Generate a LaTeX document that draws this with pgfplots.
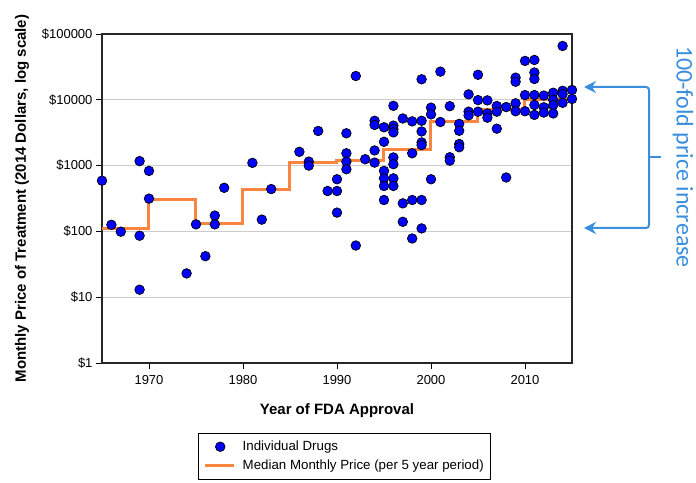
\documentclass[border=0pt]{standalone}
\usepackage{fontspec}
\setmainfont{Liberation Sans}
\newfontfamily\calib{Carlito}
\usepackage{pgfplots}
\pgfplotsset{compat=1.18}
\usetikzlibrary{arrows.meta}

\definecolor{drugblue}{RGB}{0,0,255}
\definecolor{medorange}{RGB}{249,134,64}
\definecolor{notecol}{RGB}{58,142,222}
\definecolor{gridgray}{RGB}{204,204,204}

\pgfplotsset{
  dotlegend/.style={legend image code/.code={\draw[##1] plot coordinates {(15pt,0pt)}; \path (0pt,0pt) (34pt,0pt);}},
  linelegend/.style={legend image code/.code={\draw[##1] (0pt,0pt) -- (29pt,0pt); \path (34pt,0pt);}},
}

\begin{document}
\begin{tikzpicture}
  % page = 696 x 482, axis box at (0,0)--(470,329)
  \useasboundingbox (-102pt,-119pt) rectangle (594pt,363pt);
  \begin{axis}[
      at={(0pt,0pt)}, anchor=south west,
      scale only axis,
      width=470pt, height=329pt,
      clip=false,
      xmin=1965, xmax=2015,
      ymode=log, ymin=1, ymax=100000,
      xtick={1970,1980,1990,2000,2010},
      xticklabels={1970,1980,1990,2000,2010},
      ytick={1,10,100,1000,10000,100000},
      yticklabels={\$1,\$10,\$100,\$1000,\$10000,\$100000},
      yminorticks=false,
      xtick pos=bottom, ytick pos=left,
      tick align=outside,
      major tick length=6pt,
      tick style={black, line width=0.9pt},
      axis line style={black!85, line width=1.1pt},
      ymajorgrids=true,
      grid style={gridgray, line width=1.2pt},
      tick label style={font=\fontsize{13}{15}\selectfont},
      xticklabel style={yshift=-3pt},
      every axis x label/.style={at={(axis description cs:0.5,-0.146)}, anchor=center},
      every axis y label/.style={at={(axis description cs:-0.170,0.5)}, rotate=90, anchor=center},
      label style={font=\bfseries\fontsize{15}{17}\selectfont},
      xlabel={Year of FDA Approval},
      ylabel={Monthly Price of Treatment (2014 Dollars, log scale)},
      legend style={at={(0.205,-0.212)}, anchor=north west, draw=black,
        line width=0.8pt, font=\fontsize{13.3}{15}\selectfont,
        inner xsep=5pt, inner ysep=6pt, row sep=4pt},
      legend cell align=left,
    ]

    % individual drugs
    \addplot[only marks, mark=*, mark size=4.8pt,
      mark options={fill=drugblue, draw=black, line width=0.7pt}, dotlegend]
      table {
      x y
      1965 590
      1966 126
      1967 99
      1969 1170
      1969 86
      1969 13
      1970 830
      1970 315
      1974 23
      1975 128
      1976 42
      1977 174
      1977 128
      1978 460
      1981 1100
      1982 151
      1983 440
      1986 1620
      1987 1150
      1987 1000
      1988 3360
      1989 411
      1990 620
      1990 411
      1990 193
      1991 3100
      1991 1540
      1991 1150
      1991 880
      1992 23000
      1992 61
      1993 1250
      1994 4800
      1994 4150
      1994 1700
      1994 1110
      1995 3820
      1995 2300
      1995 830
      1995 640
      1995 490
      1995 300
      1996 8100
      1996 4050
      1996 3570
      1996 3200
      1996 1330
      1996 1050
      1996 640
      1996 490
      1997 5200
      1997 267
      1997 140
      1998 4700
      1998 1540
      1998 300
      1998 78
      1999 20500
      1999 4800
      1999 3300
      1999 2250
      1999 2050
      1999 300
      1999 111
      2000 7600
      2000 6000
      2000 620
      2001 26800
      2001 4600
      2002 8000
      2002 1340
      2002 1190
      2003 4300
      2003 3380
      2003 2130
      2003 1900
      2004 12100
      2004 6600
      2004 5800
      2005 24000
      2005 9900
      2005 6600
      2006 9800
      2006 6200
      2006 5350
      2007 8050
      2007 6600
      2007 3640
      2008 7750
      2008 660
      2009 21700
      2009 18800
      2009 8850
      2009 6700
      2010 39000
      2010 11800
      2010 6700
      2011 40300
      2011 26000
      2011 20700
      2011 11800
      2011 8350
      2011 5900
      2012 11600
      2012 7700
      2012 6400
      2013 12800
      2013 10000
      2013 8300
      2013 6200
      2014 65800
      2014 13700
      2014 12200
      2014 9000
      2015 14100
      2015 10300
    };
    \addlegendentry{Individual Drugs}

    % median per 5 year period
    \addplot[const plot, medorange, line width=3pt, no marks, linelegend]
      table {
      x y
      1965 111
      1970 310
      1975 133
      1980 437
      1985 1110
      1990 1215
      1995 1780
      2000 4700
      2005 7000
      2010 10170
      2015 10170
    };
    \addlegendentry{Median Monthly Price (per 5 year period)}
  \end{axis}

  % 100-fold bracket
  \draw[notecol, line width=2pt, rounded corners=3pt,
    {Stealth[length=12pt,width=12pt,inset=4pt]}-{Stealth[length=12pt,width=12pt,inset=4pt]}]
    (482pt,276pt) -- (547pt,276pt) -- (547pt,135pt) -- (482pt,135pt);
  \draw[notecol, line width=2pt] (547pt,206pt) -- (559pt,206pt);
  \node[notecol, rotate=-90, font=\calib\fontsize{24}{28}\selectfont, anchor=center]
    at (581pt,206pt) {100-fold price increase};
\end{tikzpicture}
\end{document}
